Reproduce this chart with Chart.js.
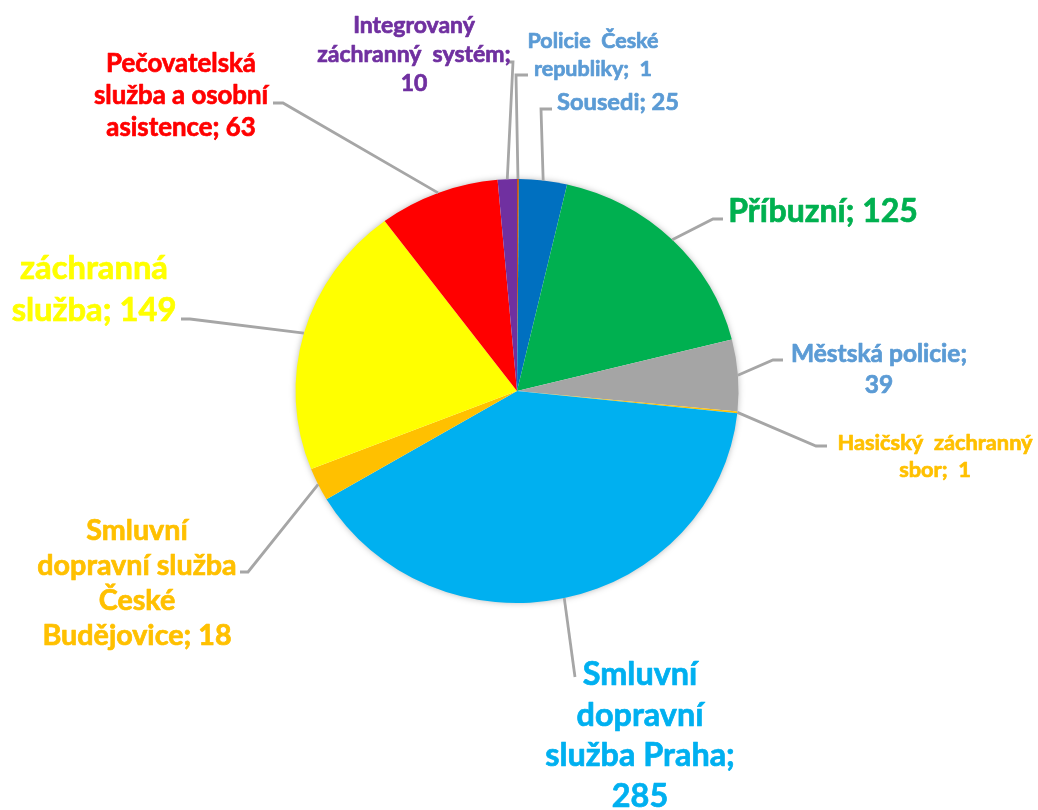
<!DOCTYPE html>
<html>
<head>
<meta charset="utf-8">
<script src="https://cdn.jsdelivr.net/npm/chart.js@4/dist/chart.umd.min.js"></script>
<style>
html, body { margin: 0; padding: 0; background: #fff; }
#wrap { width: 1038px; height: 810px; position: relative; }
</style>
</head>
<body>
<div id="wrap"><canvas id="myChart"></canvas></div>
<script>
// data, clockwise from 12 o'clock
var categories = [
  'Policie České republiky',
  'Sousedi',
  'Příbuzní',
  'Městská policie',
  'Hasičský záchranný sbor',
  'Smluvní dopravní služba Praha',
  'Smluvní dopravní služba České Budějovice',
  'záchranná služba',
  'Pečovatelská služba a osobní asistence',
  'Integrovaný záchranný systém'
];
var values = [1, 25, 125, 39, 1, 285, 18, 149, 63, 10];

var sliceColors = ['#C55A11', '#0070C0', '#00B050', '#A5A5A5', '#FFC000',
                   '#00B0F0', '#FFC000', '#FFFF00', '#FF0000', '#7030A0'];
var labelColors = ['#5B9BD5', '#5B9BD5', '#00B050', '#5B9BD5', '#FFC000',
                   '#00B0F0', '#FFC000', '#FFFF00', '#FF0000', '#7030A0'];

// label placement: x = text centre, y = first baseline, lh = line step,
// words = words per line, sp = spaces between words, elbow/end = leader line
var labelLayout = [
  { x: 593, y: 48,  lh: 28,   size: 21.5, words: [2, 2],       sp: 2, elbow: [516, 75],  end: [528, 75] },
  { x: 618, y: 110, lh: 28,   size: 23.7, words: [2],          sp: 1, elbow: [541, 109], end: [552, 109] },
  { x: 823, y: 222, lh: 40,   size: 32,   words: [2],          sp: 1, elbow: [713, 219], end: [723, 219] },
  { x: 879, y: 362, lh: 31,   size: 24.5, words: [2, 1],       sp: 1, elbow: [773, 360], end: [783, 360] },
  { x: 935, y: 450, lh: 27,   size: 21.8, words: [2, 2],       sp: 2, elbow: [816, 446], end: [827, 446] },
  { x: 640, y: 685, lh: 40.5, size: 32.4, words: [1, 1, 2, 1], sp: 1, elbow: [575, 677], end: [575, 677] },
  { x: 137, y: 540, lh: 35,   size: 28.7, words: [1, 2, 1, 2], sp: 1, elbow: [248, 572], end: [240, 572] },
  { x: 94,  y: 279, lh: 42,   size: 32.7, words: [1, 2],       sp: 1, elbow: [190, 319], end: [181, 319] },
  { x: 181, y: 72,  lh: 32,   size: 25.8, words: [1, 3, 2],    sp: 1, elbow: [283, 103], end: [273, 103] },
  { x: 414, y: 33,  lh: 29,   size: 23,   words: [1, 2, 1],    sp: 2, elbow: [513, 62],  end: [508, 62] }
];

var squashY = 212 / 221.5;
var fontFamily = 'Lato, "Liberation Sans", sans-serif';

var pieLabels = {
  id: 'pieLabels',
  beforeDatasetsDraw: function(chart) {
    var ctx = chart.ctx;
    var a0 = chart.getDatasetMeta(0).data[0];
    ctx.save();
    ctx.translate(a0.x, a0.y);
    ctx.scale(1, squashY);
    ctx.translate(-a0.x, -a0.y);
    // soft shadow under the pie
    ctx.save();
    ctx.shadowColor = 'rgba(0,0,0,0.35)';
    ctx.shadowBlur = 7;
    ctx.beginPath();
    ctx.arc(a0.x, a0.y, a0.outerRadius - 1, 0, Math.PI * 2);
    ctx.fillStyle = '#fff';
    ctx.fill();
    ctx.restore();
  },
  afterDatasetsDraw: function(chart) {
    var ctx = chart.ctx;
    ctx.restore();
    var arcs = chart.getDatasetMeta(0).data;
    arcs.forEach(function(arc, i) {
      var L = labelLayout[i];
      var mid = (arc.startAngle + arc.endAngle) / 2;
      var sx = arc.x + Math.cos(mid) * arc.outerRadius;
      var sy = arc.y + Math.sin(mid) * arc.outerRadius * squashY;
      ctx.save();
      ctx.strokeStyle = '#A6A6A6';
      ctx.lineWidth = 2.8;
      ctx.beginPath();
      ctx.moveTo(sx, sy);
      ctx.lineTo(L.elbow[0], L.elbow[1]);
      ctx.lineTo(L.end[0], L.end[1]);
      ctx.stroke();

      var words = (categories[i] + '; ' + values[i]).split(' ');
      var gap = L.sp === 2 ? '  ' : ' ';
      ctx.font = 'bold ' + L.size + 'px ' + fontFamily;
      ctx.fillStyle = labelColors[i];
      ctx.strokeStyle = labelColors[i];
      ctx.lineWidth = 0.7;   // a bit heavier, closer to the original bold face
      ctx.lineJoin = 'round';
      ctx.textAlign = 'center';
      ctx.textBaseline = 'alphabetic';
      var k = 0;
      L.words.forEach(function(n, row) {
        var line = words.slice(k, k + n).join(gap);
        k += n;
        ctx.fillText(line, L.x, L.y + row * L.lh);
        ctx.strokeText(line, L.x, L.y + row * L.lh);
      });
      ctx.restore();
    });
  }
};

var ctx = document.getElementById('myChart').getContext('2d');
var myChart = new Chart(ctx, {
  type: 'pie',
  data: {
    labels: categories,
    datasets: [{
      data: values,
      backgroundColor: sliceColors,
      borderWidth: 0
    }]
  },
  options: {
    responsive: true,
    maintainAspectRatio: false,
    animation: false,
    layout: { padding: { left: 295.5, right: 299.5, top: 169.5, bottom: 197.5 } },
    plugins: {
      legend: { display: false },
      tooltip: { enabled: false }
    }
  },
  plugins: [pieLabels]
});
</script>
</body>
</html>
